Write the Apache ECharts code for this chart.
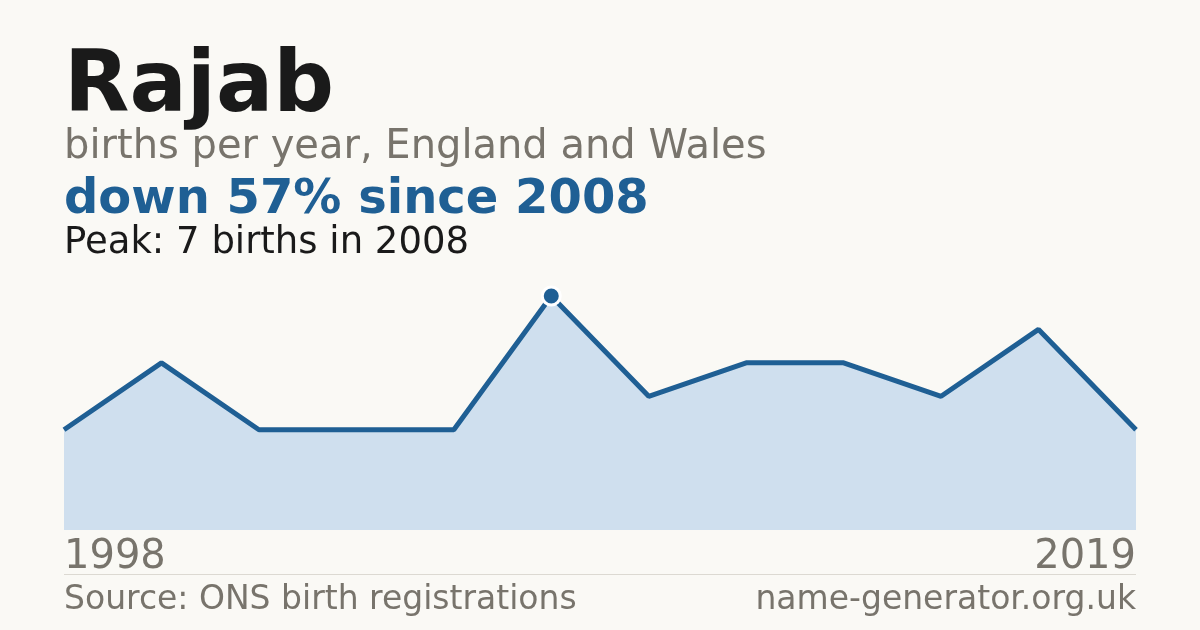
<!DOCTYPE html>
<html>
<head>
<meta charset="utf-8">
<script src="https://cdn.jsdelivr.net/npm/echarts@6/dist/echarts.min.js"></script>
<style>
html,body{margin:0;padding:0;background:#faf9f5;}
#chart{width:1200px;height:630px;}
</style>
</head>
<body>
<div id="chart"></div>
<script>
const years = ['1998','2000','2002','2004','2006','2008','2010','2012','2014','2016','2017','2019'];
const births = [3, 5, 3, 3, 3, 7, 4, 5, 5, 4, 6, 3];
const peakIndex = 5;
const titleText = 'Rajab';
const subtitleText = 'births per year, England and Wales';
const trendText = 'down 57% since 2008';
const peakText = 'Peak: 7 births in 2008';
const sourceText = 'Source: ONS birth registrations';
const siteText = 'name-generator.org.uk';

const FONT = '"DejaVu Sans", sans-serif';
const BLUE = '#1f5f94';
const GREY = '#78746c';

const chart = echarts.init(document.getElementById('chart'), null, {renderer: 'canvas'});

const seriesData = births.map((v, i) => i === peakIndex
  ? {value: v, symbol: 'circle', symbolSize: 18, itemStyle: {color: BLUE, borderColor: '#ffffff', borderWidth: 3}}
  : {value: v, symbolSize: 0});

chart.setOption({
  backgroundColor: '#faf9f5',
  animation: false,
  grid: {left: 64, right: 64, top: 296, bottom: 100},
  xAxis: {
    type: 'category',
    data: years,
    boundaryGap: false,
    axisLine: {show: false},
    axisTick: {show: false},
    splitLine: {show: false},
    axisLabel: {
      interval: (idx) => idx === 0 || idx === years.length - 1,
      alignMinLabel: 'left',
      alignMaxLabel: 'right',
      color: GREY,
      fontFamily: FONT,
      fontSize: 40,
      margin: 8
    }
  },
  yAxis: {
    type: 'value',
    min: 0,
    max: 7,
    show: false
  },
  series: [{
    type: 'line',
    data: seriesData,
    symbol: 'circle',
    showAllSymbol: true,
    lineStyle: {color: BLUE, width: 5},
    itemStyle: {color: BLUE},
    areaStyle: {color: '#cfdfee', opacity: 1},
    z: 2
  }],
  graphic: [
    {type: 'text', x: 64, y: 89, style: {text: titleText, font: 'bold 85px ' + FONT, fill: '#1a1a1a', verticalAlign: 'middle'}},
    {type: 'text', x: 64, y: 148, style: {text: subtitleText, font: '40px ' + FONT, fill: GREY, verticalAlign: 'middle'}},
    {type: 'text', x: 64, y: 200.5, style: {text: trendText, font: 'bold 48px ' + FONT, fill: BLUE, verticalAlign: 'middle'}},
    {type: 'text', x: 64, y: 243.5, style: {text: peakText, font: '37px ' + FONT, fill: '#1a1a1a', verticalAlign: 'middle'}},
    {type: 'rect', shape: {x: 64, y: 574, width: 1072, height: 1}, style: {fill: '#dcd9d2'}},
    {type: 'text', x: 64, y: 600, style: {text: sourceText, font: '33px ' + FONT, fill: GREY, verticalAlign: 'middle'}},
    {type: 'text', x: 1136, y: 600, style: {text: siteText, font: '33px ' + FONT, fill: GREY, verticalAlign: 'middle', align: 'right'}}
  ]
});
</script>
</body>
</html>
